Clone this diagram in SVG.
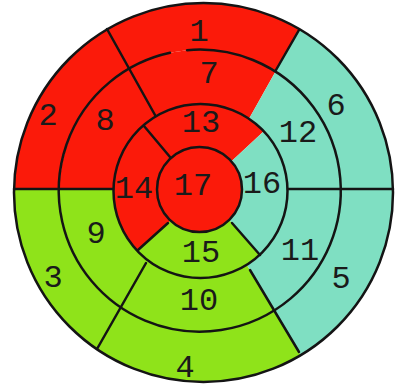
<svg xmlns="http://www.w3.org/2000/svg" width="398" height="392" viewBox="0 0 398 392">
<style>
.red{fill:#fb1a0a}
.grn{fill:#8fe31a}
.teal{fill:#7fdfc2}
.ln{fill:none;stroke:#141414;stroke-width:2.5;stroke-linecap:round}
text{font-family:"Liberation Mono","Courier New",monospace;font-size:32px;fill:#1a1a1a;text-anchor:middle}
</style>
<defs>
<clipPath id="basal"><path clip-rule="evenodd" d="M14,192.5a189.5,189.5 0 1,0 379,0a189.5,189.5 0 1,0 -379,0Z M59.5,190.5a141,141 0 1,0 282,0a141,141 0 1,0 -282,0Z"/></clipPath>
<clipPath id="mid"><path clip-rule="evenodd" d="M59.5,190.5a141,141 0 1,0 282,0a141,141 0 1,0 -282,0Z M113.5,191a87,87 0 1,0 174,0a87,87 0 1,0 -174,0Z"/></clipPath>
<clipPath id="apical"><path clip-rule="evenodd" d="M113.5,191a87,87 0 1,0 174,0a87,87 0 1,0 -174,0Z M157,189.5a42.5,42.5 0 1,0 85,0a42.5,42.5 0 1,0 -85,0Z"/></clipPath>
<polygon id="w1" points="200,190 155,115 78,-23 328,-22 250,117"/>
<polygon id="w2" points="200,190 113,189 -10,189 -10,-30 78,-23 155,115"/>
<polygon id="w3" points="200,190 113,189 -10,189 -10,410 68,401 146,263"/>
<polygon id="w4" points="200,190 146,263 68,401 328,401 250,270"/>
<polygon id="w5" points="200,190 250,270 328,401 410,410 410,189 288,189"/>
<polygon id="w6" points="200,190 288,189 410,189 410,-30 328,-22 250,117"/>
</defs>
<rect width="398" height="392" fill="#fff"/>
<g id="seg1"><use href="#w1" class="red" clip-path="url(#basal)"/><text x="199" y="41">1</text></g>
<g id="seg2"><use href="#w2" class="red" clip-path="url(#basal)"/><text x="48" y="125">2</text></g>
<g id="seg3"><use href="#w3" class="grn" clip-path="url(#basal)"/><text x="53" y="287">3</text></g>
<g id="seg4"><use href="#w4" class="grn" clip-path="url(#basal)"/><text x="185" y="377">4</text></g>
<g id="seg5"><use href="#w5" class="teal" clip-path="url(#basal)"/><text x="341" y="288">5</text></g>
<g id="seg6"><use href="#w6" class="teal" clip-path="url(#basal)"/><text x="336" y="115">6</text></g>
<g id="seg7"><use href="#w1" class="red" clip-path="url(#mid)"/><text x="209" y="83">7</text></g>
<g id="seg8"><use href="#w2" class="red" clip-path="url(#mid)"/><text x="105" y="130">8</text></g>
<g id="seg9"><use href="#w3" class="grn" clip-path="url(#mid)"/><text x="96" y="243">9</text></g>
<g id="seg10"><use href="#w4" class="grn" clip-path="url(#mid)"/><text x="199" y="310">10</text></g>
<g id="seg11"><use href="#w5" class="teal" clip-path="url(#mid)"/><text x="300" y="260">11</text></g>
<g id="seg12"><use href="#w6" class="teal" clip-path="url(#mid)"/><text x="298" y="142">12</text></g>
<g id="seg13"><polygon class="red" clip-path="url(#apical)" points="200,190 183,172.5 92,64 319,80 221,171"/><text x="201" y="132">13</text></g>
<g id="seg14"><polygon class="red" clip-path="url(#apical)" points="200,190 183,172.5 92,64 60,190 78,304 183,209.5"/><text x="134" y="198">14</text></g>
<g id="seg15"><polygon class="grn" clip-path="url(#apical)" points="200,190 183,209.5 78,304 316,319 218,207"/><text x="201" y="262">15</text></g>
<g id="seg16"><polygon class="teal" clip-path="url(#apical)" points="200,190 218,207 316,319 340,190 319,80 221,171"/><text x="262" y="193">16</text></g>
<g id="seg17"><circle class="red" cx="199.5" cy="189.5" r="42.5"/><text x="193" y="195">17</text></g>
<g id="lines">
<circle class="ln" cx="203.5" cy="192.5" r="189.5"/>
<path class="ln" d="M187,50.2A141,141 0 1,1 170,52.8"/>
<circle class="ln" cx="200.5" cy="191" r="87"/>
<circle class="ln" cx="199.5" cy="189.5" r="42.5"/>
<line class="ln" x1="107" y1="29" x2="155" y2="115"/>
<line class="ln" x1="299" y1="30" x2="276" y2="70"/>
<line class="ln" x1="14" y1="189" x2="113" y2="189"/>
<line class="ln" x1="288" y1="189" x2="393" y2="189"/>
<line class="ln" x1="97" y1="349" x2="146" y2="263"/>
<line class="ln" x1="299" y1="352" x2="250" y2="270"/>
<line class="ln" x1="144" y1="126" x2="170" y2="157"/>
<line class="ln" x1="138" y1="250" x2="168" y2="223"/>
<line class="ln" x1="260" y1="255" x2="232" y2="223"/>
</g>
</svg>
